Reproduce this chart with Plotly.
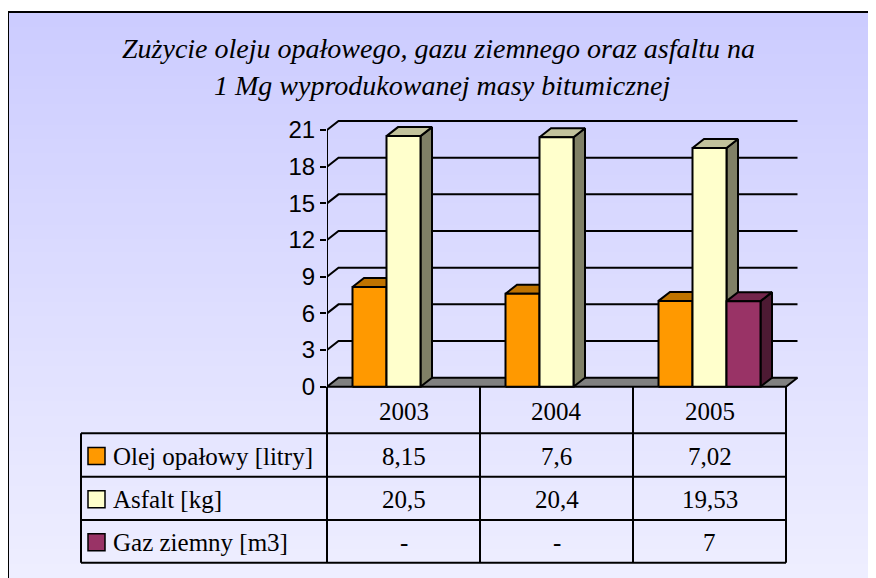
import plotly.graph_objects as go

# ---------------- data ----------------
categories = ["2003", "2004", "2005"]
series_names = ["Olej opałowy [litry]", "Asfalt [kg]", "Gaz ziemny [m3]"]
olej = [8.15, 7.6, 7.02]
asfalt = [20.5, 20.4, 19.53]
gaz = [None, None, 7]
y_ticks = [0, 3, 6, 9, 12, 15, 18, 21]
title_lines = ["Zużycie oleju opałowego, gazu ziemnego oraz asfaltu na",
               "1 Mg wyprodukowanej masy bitumicznej"]

series_values = [olej, asfalt, gaz]
front_colors = ["#FF9900", "#FFFFCC", "#993366"]
top_colors = ["#BF7300", "#C2C29C", "#73264C"]
side_colors = ["#804C00", "#808066", "#4D1A33"]

# ---------------- layout geometry (pixels, page coords) ----------------
OFF = 8  # page body margin
W, H = 876 - OFF, 578 - OFF
ML = 327 - OFF
MR = 876 - 812
MT = 110 - OFF
MB = 578 - 395
PW, PH = W - ML - MR, H - MT - MB
CAT_PX = 153.0
X0 = -0.5
X1 = X0 + PW / CAT_PX
Y_PX_PER_UNIT = (386.7 - 130.0) / 21.0
Y0 = -(395 - 386.7) / Y_PX_PER_UNIT
Y1 = 21 + (130.0 - 110) / Y_PX_PER_UNIT
DX = 11.5 / CAT_PX
DY = 9.0 / Y_PX_PER_UNIT
BAR_W = 34.0 / CAT_PX


def fx(px):
    return (px - OFF - ML) / PW


def fy(py):
    return 1 - (py - OFF - MT) / PH


def cat_px(c):
    return 327 + (c - X0) * CAT_PX


fig = go.Figure()

n = len(categories)
for v in y_ticks[1:]:
    fig.add_trace(go.Scatter(
        x=[X0, X0 + DX, n - 0.5 + DX], y=[v, v + DY, v + DY],
        mode="lines", line=dict(color="black", width=2),
        hoverinfo="skip", showlegend=False))

fig.add_trace(go.Scatter(
    x=[X0, n - 0.5, n - 0.5 + DX, X0 + DX, X0], y=[0, 0, DY, DY, 0],
    mode="lines", fill="toself", fillcolor="#808080",
    line=dict(color="black", width=2), hoverinfo="skip", showlegend=False))

fig.add_trace(go.Scatter(
    x=[X0, X0], y=[0, y_ticks[-1]], mode="lines",
    line=dict(color="black", width=2), hoverinfo="skip", showlegend=False))


def poly(xs, ys, fill):
    fig.add_trace(go.Scatter(
        x=xs + [xs[0]], y=ys + [ys[0]], mode="lines", fill="toself",
        fillcolor=fill, line=dict(color="black", width=2),
        hoverinfo="skip", showlegend=False))


ns = len(series_values)
for ci in range(n):
    for si in range(ns):
        v = series_values[si][ci]
        if v is None:
            continue
        x0 = ci + (si - ns / 2) * BAR_W
        x1 = x0 + BAR_W
        poly([x1, x1 + DX, x1 + DX, x1], [0, DY, v + DY, v], side_colors[si])
        poly([x0, x1, x1 + DX, x0 + DX], [v, v, v + DY, v + DY], top_colors[si])
        poly([x0, x1, x1, x0], [0, 0, v, v], front_colors[si])

shapes = []
annotations = []

BX0, BY0 = 8, 12
NB = 80
c_top = (204, 204, 255)
c_bot = (238, 238, 255)
for i in range(NB):
    t = i / (NB - 1)
    col = tuple(round(c_top[k] + (c_bot[k] - c_top[k]) * t) for k in range(3))
    ya = BY0 + (578 - BY0) * i / NB
    yb = BY0 + (578 - BY0) * (i + 1) / NB + 1
    shapes.append(dict(type="rect", xref="paper", yref="paper",
                       x0=fx(BX0), x1=fx(890), y0=fy(ya), y1=fy(yb),
                       fillcolor="rgb(%d,%d,%d)" % col, line=dict(width=0),
                       layer="below"))
shapes.append(dict(type="rect", xref="paper", yref="paper",
                   x0=fx(BX0), x1=fx(900), y0=fy(BY0), y1=fy(600),
                   line=dict(color="black", width=2), layer="below"))

LINE = dict(color="black", width=2)
row_y = [386.7, 433.3, 476.7, 520.0, 562.7]
left_px = 81
right_px = cat_px(n - 0.5)
for k in range(n + 1):
    xp = cat_px(k - 0.5)
    shapes.append(dict(type="line", xref="paper", yref="paper",
                       x0=fx(xp), x1=fx(xp), y0=fy(row_y[0]), y1=fy(row_y[-1]),
                       line=LINE))
shapes.append(dict(type="line", xref="paper", yref="paper",
                   x0=fx(left_px), x1=fx(left_px), y0=fy(row_y[1]), y1=fy(row_y[-1]),
                   line=LINE))
for r in row_y[1:]:
    shapes.append(dict(type="line", xref="paper", yref="paper",
                       x0=fx(left_px), x1=fx(right_px), y0=fy(r), y1=fy(r),
                       line=LINE))

SERIF = "Liberation Serif"
TFONT = dict(family=SERIF, size=25, color="black")


def fmt(v):
    if v is None:
        return "-"
    return ("%g" % v).replace(".", ",")


for ci, cat in enumerate(categories):
    annotations.append(dict(xref="paper", yref="paper", x=fx(cat_px(ci)),
                            y=fy((row_y[0] + row_y[1]) / 2 + 1), text=cat,
                            showarrow=False, font=TFONT,
                            xanchor="center", yanchor="middle"))
for si, name in enumerate(series_names):
    yc = (row_y[si + 1] + row_y[si + 2]) / 2
    for ci in range(n):
        annotations.append(dict(xref="paper", yref="paper", x=fx(cat_px(ci)),
                                y=fy(yc + 1), text=fmt(series_values[si][ci]),
                                showarrow=False, font=TFONT,
                                xanchor="center", yanchor="middle"))
    shapes.append(dict(type="rect", xref="paper", yref="paper",
                       x0=fx(88), x1=fx(105), y0=fy(yc - 7.5), y1=fy(yc + 9.5),
                       fillcolor=front_colors[si], line=dict(color="black", width=1.5)))
    annotations.append(dict(xref="paper", yref="paper", x=fx(111),
                            y=fy(yc + 1), text=name, showarrow=False, font=TFONT,
                            xanchor="left", yanchor="middle"))

TTFONT = dict(family=SERIF, size=28, color="black")
annotations.append(dict(xref="paper", yref="paper", x=fx(438), y=fy(48),
                        text="<i>%s</i>" % title_lines[0], showarrow=False,
                        font=TTFONT, xanchor="center", yanchor="middle"))
annotations.append(dict(xref="paper", yref="paper", x=fx(442), y=fy(86),
                        text="<i>%s</i>" % title_lines[1], showarrow=False,
                        font=TTFONT, xanchor="center", yanchor="middle"))

fig.update_layout(
    width=W, height=H,
    margin=dict(l=ML, r=MR, t=MT, b=MB, pad=0, autoexpand=False),
    paper_bgcolor="white", plot_bgcolor="rgba(0,0,0,0)",
    showlegend=False,
    xaxis=dict(range=[X0, X1], visible=False, fixedrange=True),
    yaxis=dict(range=[Y0, Y1], tickvals=y_ticks, ticktext=[str(t) for t in y_ticks],
               ticks="outside", ticklen=6, tickwidth=2, tickcolor="black",
               showgrid=False, zeroline=False, showline=False, automargin=False,
               tickfont=dict(family="Liberation Sans", size=24, color="black"),
               fixedrange=True),
    shapes=shapes, annotations=annotations,
)

fig.write_html("out.html")
